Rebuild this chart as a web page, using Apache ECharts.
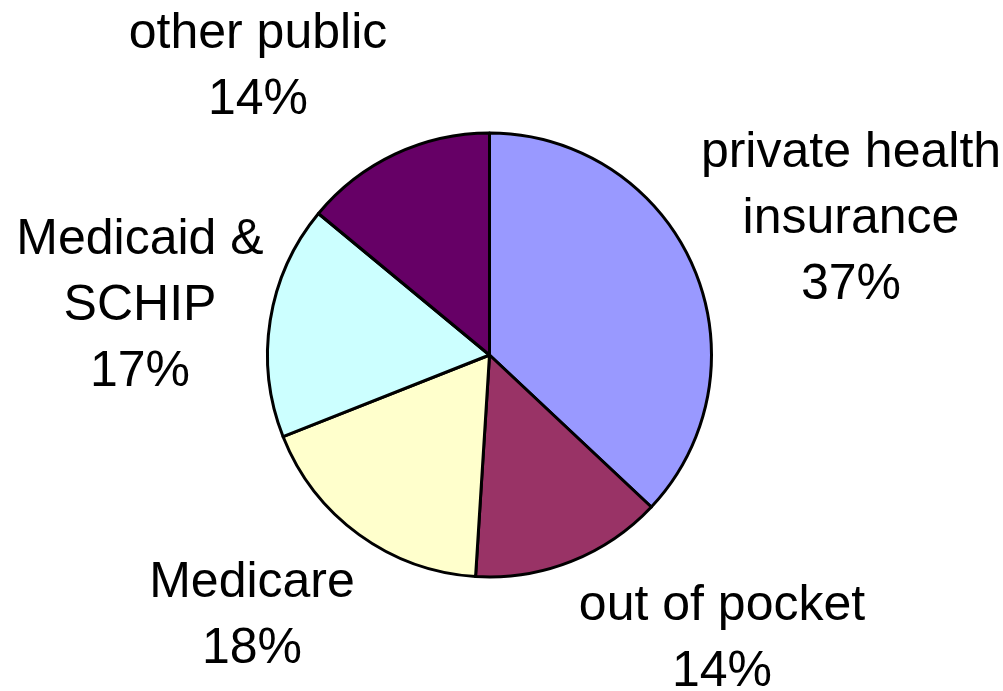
<!DOCTYPE html>
<html><head><meta charset="utf-8">
<script src="https://cdn.jsdelivr.net/npm/echarts@6/dist/echarts.min.js"></script>
<style>html,body{margin:0;padding:0;background:#fff}#c{width:1003px;height:691px}</style>
</head><body><div id="c"></div>
<script>
const categories = ["private health\ninsurance", "out of pocket", "Medicare", "Medicaid &\nSCHIP", "other public"];
const shares = [37, 14, 18, 17, 14];
const colors = ["#9999FF", "#993366", "#FFFFCC", "#CCFFFF", "#660066"];
const labelSpots = [[851, 219], [722, 639], [252, 616], [140, 306], [258, 67]];

const chart = echarts.init(document.getElementById('c'), null, {renderer: 'canvas'});
chart.setOption({
  animation: false,
  series: [{
    type: 'pie',
    center: [489.5, 355],
    radius: [0, 222],
    startAngle: 90,
    clockwise: true,
    data: categories.map((n, i) => ({name: n, value: shares[i], itemStyle: {color: colors[i]}})),
    itemStyle: {borderColor: '#000', borderWidth: 3},
    emphasis: {disabled: true},
    label: {
      show: true,
      position: 'outside',
      formatter: p => p.name + '\n' + p.value + '%',
      fontFamily: 'Liberation Sans, Arial, sans-serif',
      fontSize: 50,
      lineHeight: 66,
      color: '#000',
      align: 'center',
      overflow: 'none',
      width: 400
    },
    labelLine: {show: false},
    labelLayout: p => ({x: labelSpots[p.dataIndex][0], y: labelSpots[p.dataIndex][1], align: 'center', verticalAlign: 'middle'})
  }]
});
</script></body></html>
